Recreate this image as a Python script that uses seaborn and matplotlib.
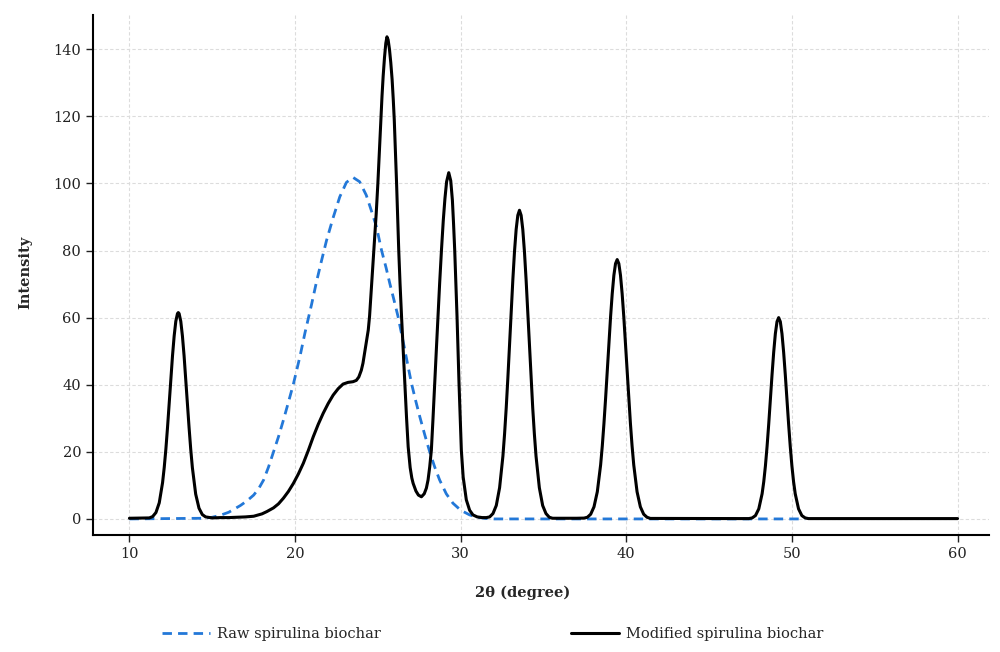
import matplotlib
matplotlib.use("Agg")
import matplotlib.pyplot as plt
import seaborn as sns
import pandas as pd

# ---- data ----
raw_x = [10.0, 14.5, 15.0, 15.5, 16.0, 16.7, 17.1, 17.5, 17.8, 18.1, 18.4, 18.7, 19.0,
         19.3, 19.6, 19.9, 20.3, 20.6, 21.0, 21.3, 21.6, 21.9, 22.3, 22.7, 23.1, 23.5,
         23.9, 24.3, 24.6, 24.92, 25.22, 25.5, 25.72, 25.97, 26.22, 26.43, 26.63, 26.83,
         27.03, 27.28, 27.53, 27.83, 28.13, 28.43, 28.73, 29.13, 29.53, 30.0, 30.54,
         31.0, 31.5, 32.0, 50.8]
raw_y = [0.0, 0.2, 0.5, 1.1, 2.0, 4.0, 5.4, 7.1, 9.0, 11.6, 15.5, 20.0, 24.5,
         29.5, 34.8, 40.2, 48.5, 55.5, 64.0, 70.8, 77.0, 83.0, 89.8, 96.0, 100.3, 101.8,
         100.5, 96.5, 92.0, 87.0, 80.1, 74.8, 70.2, 65.3, 60.3, 55.2, 50.3, 45.3,
         40.4, 35.3, 30.5, 25.1, 20.0, 15.5, 11.6, 7.5, 4.7, 2.6, 1.2,
         0.5, 0.15, 0.0, 0.0]

mod_x = [10.0, 11.2, 11.4, 11.6, 11.8, 12.0, 12.1, 12.2, 12.3, 12.4, 12.5, 12.6, 12.7, 12.8,
         12.9, 12.95, 13.0, 13.1, 13.2, 13.3, 13.4, 13.5, 13.6, 13.7, 13.8, 14.0, 14.2,
         14.4, 14.6, 15.0, 15.5, 16.0, 16.5, 17.0, 17.5, 18.0, 18.3, 18.7, 19.0, 19.3,
         19.6, 19.9, 20.2, 20.5, 20.8, 21.1, 21.4, 21.7, 22.0, 22.3, 22.6, 22.9, 23.2,
         23.5, 23.7, 23.85, 24.0, 24.1, 24.2, 24.3, 24.42, 24.5, 24.6, 24.7, 24.78,
         24.9, 25.0, 25.1, 25.18, 25.25, 25.32, 25.4, 25.48, 25.55, 25.62, 25.7, 25.78,
         25.86, 25.93, 25.99, 26.06, 26.13, 26.2, 26.26, 26.34, 26.43, 26.53, 26.63,
         26.73, 26.83, 26.95, 27.05, 27.13, 27.3, 27.45, 27.63, 27.8, 27.93, 28.03,
         28.13, 28.23, 28.33, 28.43, 28.53, 28.63, 28.73, 28.84, 28.95, 29.05, 29.15,
         29.28, 29.4, 29.5, 29.57, 29.64, 29.71, 29.78, 29.84, 29.9, 29.97, 30.04,
         30.15, 30.34, 30.54, 30.74, 31.0, 31.3, 31.55, 31.75, 31.95, 32.15, 32.35,
         32.55, 32.65, 32.75, 32.85, 32.95, 33.05, 33.15, 33.25, 33.35, 33.45, 33.55,
         33.65, 33.75, 33.85, 33.95, 34.05, 34.15, 34.25, 34.35, 34.45, 34.55, 34.75,
         34.95, 35.15, 35.35, 35.55, 37.0, 37.45, 37.65, 37.85, 38.05, 38.25, 38.45,
         38.55, 38.65, 38.75, 38.85, 38.95, 39.05, 39.15, 39.25, 39.35, 39.45, 39.55,
         39.65, 39.75, 39.85, 39.95, 40.05, 40.15, 40.25, 40.35, 40.45, 40.65, 40.85,
         41.05, 41.25, 41.45, 47.0, 47.4, 47.6, 47.8, 48.0, 48.2, 48.3, 48.4, 48.5,
         48.6, 48.7, 48.8, 48.9, 49.0, 49.1, 49.2, 49.3, 49.4, 49.5, 49.6, 49.7, 49.8,
         49.9, 50.0, 50.1, 50.2, 50.4, 50.6, 50.8, 51.0, 60.0]
mod_y = [0.2, 0.3, 0.7, 1.9, 4.8, 10.8, 15.3, 20.8, 27.3, 34.4, 41.7, 48.6, 54.5, 58.9,
         61.2, 61.5, 61.2, 58.9, 54.5, 48.6, 41.7, 34.4, 27.3, 20.8, 15.3, 7.4, 3.2,
         1.3, 0.6, 0.3, 0.4, 0.4, 0.5, 0.6, 0.8, 1.5, 2.2, 3.3, 4.5, 6.2,
         8.2, 10.6, 13.4, 16.6, 20.4, 24.5, 28.2, 31.5, 34.4, 36.9, 38.8, 40.2, 40.7,
         40.9, 41.3, 42.3, 44.3, 46.4, 49.5, 52.8, 56.3, 60.5, 68.0, 75.5, 81.0,
         91.0, 100.0, 110.5, 119.0, 126.0, 132.0, 137.5, 141.8, 143.7, 142.8, 140.0, 136.0,
         131.0, 125.0, 119.0, 109.5, 100.0, 89.5, 80.1, 70.0, 60.3, 50.3, 40.4,
         30.3, 21.5, 15.3, 12.2, 10.6, 8.3, 7.1, 6.6, 7.5, 9.2, 11.6,
         15.5, 20.5, 30.0, 40.4, 50.3, 60.3, 70.2, 80.1, 89.0, 95.5, 100.5,
         103.2, 100.8, 95.0, 88.0, 80.1, 70.2, 60.3, 50.3, 40.4, 30.5, 20.5,
         12.5, 5.7, 2.6, 1.2, 0.6, 0.4, 0.4, 0.6, 1.6, 4.0, 9.3,
         18.7, 25.3, 33.1, 42.1, 51.8, 61.7, 71.3, 79.7, 86.3, 90.5, 92.0,
         90.5, 86.3, 79.7, 71.3, 61.7, 51.8, 42.1, 33.1, 25.3, 18.7, 9.3,
         4.0, 1.6, 0.5, 0.2, 0.2, 0.25, 0.5, 1.4, 3.6, 8.1, 16.1,
         21.7, 28.4, 35.9, 44.0, 52.2, 60.2, 67.1, 72.6, 76.1, 77.3, 76.1,
         72.6, 67.1, 60.2, 52.2, 44.0, 35.9, 28.4, 21.7, 16.1, 8.1, 3.6,
         1.4, 0.5, 0.15, 0.1, 0.1, 0.3, 1.0, 3.0, 7.5, 11.1, 15.8, 21.6,
         28.3, 35.6, 43.0, 49.7, 55.2, 58.8, 60.0, 58.8, 55.2, 49.7, 43.0, 35.6, 28.3,
         21.6, 15.8, 11.1, 7.5, 3.0, 1.0, 0.3, 0.1, 0.1]

x_ticks = [10, 20, 30, 40, 50, 60]
y_ticks = [0, 20, 40, 60, 80, 100, 120, 140]
series_labels = ["Raw spirulina biochar", "Modified spirulina biochar"]

raw_df = pd.DataFrame({"x": raw_x, "y": raw_y})
mod_df = pd.DataFrame({"x": mod_x, "y": mod_y})

sns.set_theme(style="white")
plt.rcParams["font.family"] = ["DejaVu Serif", "DejaVu Sans"]

fig = plt.figure(figsize=(10, 6.52), dpi=100)
ax = fig.add_axes([0.093, 0.1794, 0.896, 0.7976])

ax.grid(True, color="#dcdcdc", linestyle=(0, (3, 2)), linewidth=0.8)
ax.set_axisbelow(True)

sns.lineplot(data=raw_df, x="x", y="y", ax=ax, color="#2378d8", linewidth=2.0,
             label=series_labels[0], estimator=None, sort=False)
ax.lines[-1].set_dashes((3.4, 2.2))
sns.lineplot(data=mod_df, x="x", y="y", ax=ax, color="black", linewidth=2.2,
             label=series_labels[1], estimator=None, sort=False)

ax.set_xlim(7.8, 61.9)
ax.set_ylim(-4.8, 150.2)
ax.set_xticks(x_ticks)
ax.set_yticks(y_ticks)
ax.tick_params(axis="both", labelsize=10.5, colors="#222222", length=5, width=1,
               direction="out", bottom=True, left=True)
for s in ["top", "right"]:
    ax.spines[s].set_visible(False)
for s in ["left", "bottom"]:
    ax.spines[s].set_color("black")
    ax.spines[s].set_linewidth(1.5)

ax.set_xlabel("2θ (degree)", fontsize=10.5, fontweight="bold", va="center")
ax.xaxis.set_label_coords(0.479, -0.112)
ax.set_ylabel("Intensity", fontsize=10.5, fontweight="bold", va="center")
ax.yaxis.set_label_coords(-0.076, 0.506)

ax.legend(loc="center", bbox_to_anchor=(0.446, -0.19), ncol=2, frameon=False,
          fontsize=10.5, handlelength=3.3, handletextpad=0.5, columnspacing=13.0)

fig.savefig("out.png", dpi=100)
